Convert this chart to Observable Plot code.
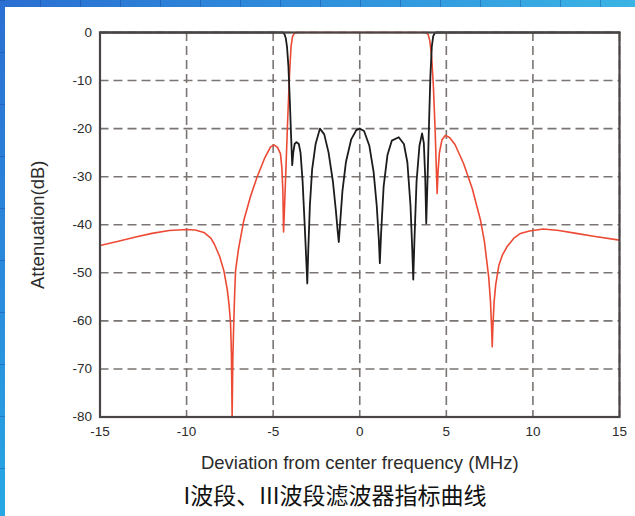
<!DOCTYPE html>
<html>
<head>
<meta charset="utf-8">
<script src="https://cdn.jsdelivr.net/npm/d3@7"></script>
<script src="https://cdn.jsdelivr.net/npm/@observablehq/plot@0.6"></script>
<style>
  html, body { margin: 0; padding: 0; }
  body {
    width: 635px; height: 516px; overflow: hidden; position: relative;
    background: linear-gradient(180deg, #2a72d4 0%, #27a0e2 100%);
  }
  #strip-top {
    position: absolute; left: 0; top: 0; width: 635px; height: 7px;
    background:
      repeating-linear-gradient(90deg, rgba(20,60,140,0.35) 0 1px, transparent 1px 40px),
      linear-gradient(90deg, #2a6fd2 0%, #2f8fdc 50%, #3ab4e4 100%);
  }
  #strip-left {
    position: absolute; left: 0; top: 0; width: 5px; height: 516px;
    background:
      repeating-linear-gradient(180deg, rgba(20,60,140,0.35) 0 1px, transparent 1px 52px),
      linear-gradient(180deg, #2a6fd2 0%, #2a8ede 60%, #27a8e4 100%);
  }
  #panel {
    position: absolute; left: 5px; top: 7px; width: 630px; height: 509px; background: #fff;
  }
  #chart { position: absolute; left: 0; top: 0; }
  #title {
    position: absolute; left: 0; width: 670px; top: 480px; text-align: center;
    font-family: "Noto Sans CJK SC", sans-serif; font-size: 23px; color: #111;
    line-height: 28px;
  }
</style>
</head>
<body>
<div id="strip-top"></div>
<div id="strip-left"></div>
<div id="panel"></div>
<div id="chart"></div>
<div id="title">I波段、III波段滤波器指标曲线</div>
<script>
// Red curve (band-pass): frequency deviation (MHz) and attenuation (dB)
const redX = [-15, -14, -13, -12, -11, -10, -9.5, -9, -8.6, -8.4, -8.1, -7.85, -7.65, -7.55, -7.46, -7.41, -7.37, -7.33, -7.28, -7.22, -7.17, -7.0, -6.69, -6.3, -5.92, -5.5, -5.15, -4.95, -4.75, -4.58, -4.5, -4.44, -4.4, -4.34, -4.26, -4.16, -4.06, -3.97, -3.88, -3.78, -3.6,
  -2, 0, 2, 3.8, 3.95, 4.05, 4.15, 4.25, 4.35, 4.42, 4.47, 4.52, 4.6, 4.75, 4.95, 5.2, 5.5, 6.0, 6.5, 6.97, 7.2, 7.45, 7.55, 7.61, 7.65, 7.69, 7.76, 7.85, 8.03, 8.25, 8.5, 8.9, 9.28, 9.8, 10.4, 10.6, 11.5, 12.5, 13.5, 15];
const redY = [-44.3, -43.5, -42.6, -41.8, -41.2, -41.0, -41.1, -41.6, -42.8, -44.0, -46.5, -49.5, -53.5, -56.5, -60.5, -67, -80, -68, -61, -54, -49.5, -45, -39, -34, -30, -26.2, -23.8, -23.4, -23.9, -25.2, -28, -33, -41.5, -36, -28, -18, -9, -3, -0.8, -0.2, 0,
  0, 0, 0, 0, -0.4, -1.8, -5, -11, -20, -28, -33.5, -29, -25, -22.3, -21.4, -21.9, -23.3, -27.3, -32.5, -39, -43.5, -51, -56, -61, -65.4, -61, -56, -52.5, -48.5, -46.2, -44.6, -42.8, -41.8, -41.3, -41.0, -40.9, -41.2, -41.8, -42.4, -43.2];

// Black curve (band-stop)
const blackX = [-15, -5, -4.45, -4.35, -4.27, -4.2, -4.12, -4.04, -3.96, -3.9, -3.84, -3.76, -3.65, -3.52, -3.42, -3.3, -3.18, -3.08, -3.03, -2.97, -2.88, -2.75, -2.55, -2.3, -2.05, -1.8, -1.55, -1.38, -1.27, -1.21, -1.14, -1.0, -0.8, -0.5, -0.2, 0, 0.25, 0.55, 0.8, 0.98, 1.1, 1.16, 1.23, 1.38, 1.6, 1.85, 2.25, 2.55, 2.75, 2.93, 3.03, 3.09, 3.16, 3.28, 3.45, 3.6, 3.7, 3.78, 3.84, 3.92, 4.0, 4.08, 4.16, 4.24, 4.32, 4.4, 5, 15];
const blackY = [0, 0, 0, -0.3, -1.2, -3, -7, -14, -22, -27.6, -25, -23.2, -22.8, -23.2, -25, -31, -40, -48, -52.2, -45, -36, -28.5, -23.2, -20, -21.2, -25, -31, -37, -41.5, -43.6, -40, -33, -27, -22.3, -20.3, -20, -20.5, -23.5, -29, -36, -43, -48, -42, -32, -25.5, -22.5, -21.8, -23.2, -27, -36, -45, -51.4, -43, -31, -23.5, -21, -23, -30, -39.7, -30, -19, -9, -3, -0.8, -0.2, 0, 0, 0];

// Axis ticks
const xTicks = [-15, -10, -5, 0, 5, 10, 15];
const yTicks = [0, -10, -20, -30, -40, -50, -60, -70, -80];

const red = redX.map((x, i) => ({x, y: redY[i]}));
const black = blackX.map((x, i) => ({x, y: blackY[i]}));

const chart = Plot.plot({
  width: 635,
  height: 480,
  marginLeft: 99.5,
  marginRight: 16,
  marginTop: 32,
  marginBottom: 63.5,
  style: {fontFamily: "'Liberation Sans', Arial, sans-serif", fontSize: "13.5px", color: "#2b2b2b", background: "transparent"},
  x: {domain: [-15, 15], ticks: xTicks, tickSize: 0, tickPadding: 9, tickFormat: d => String(d), label: "Deviation from center frequency (MHz)", labelAnchor: "center", labelArrow: "none", labelOffset: 52},
  y: {domain: [-80, 0], ticks: yTicks, tickSize: 0, tickPadding: 8, tickFormat: d => String(d), label: "Attenuation(dB)", labelAnchor: "center", labelArrow: "none", labelOffset: 69},
  marks: [
    Plot.gridX(xTicks, {stroke: "#7a7472", strokeOpacity: 1, strokeWidth: 1.6, strokeDasharray: "9,5"}),
    Plot.gridY(yTicks, {stroke: "#7a7472", strokeOpacity: 1, strokeWidth: 1.6, strokeDasharray: "9,5"}),
    Plot.line(red, {x: "x", y: "y", stroke: "#ec4a34", strokeWidth: 1.6}),
    Plot.line(black, {x: "x", y: "y", stroke: "#1c1c1c", strokeWidth: 1.8}),
    Plot.frame({stroke: "#4a4545", strokeWidth: 2.2})
  ]
});
chart.querySelectorAll("g[aria-label='x-axis label'] text, g[aria-label='y-axis label'] text").forEach(t => t.style.fontSize = "18.5px");
document.getElementById("chart").appendChild(chart);
</script>
</body>
</html>
